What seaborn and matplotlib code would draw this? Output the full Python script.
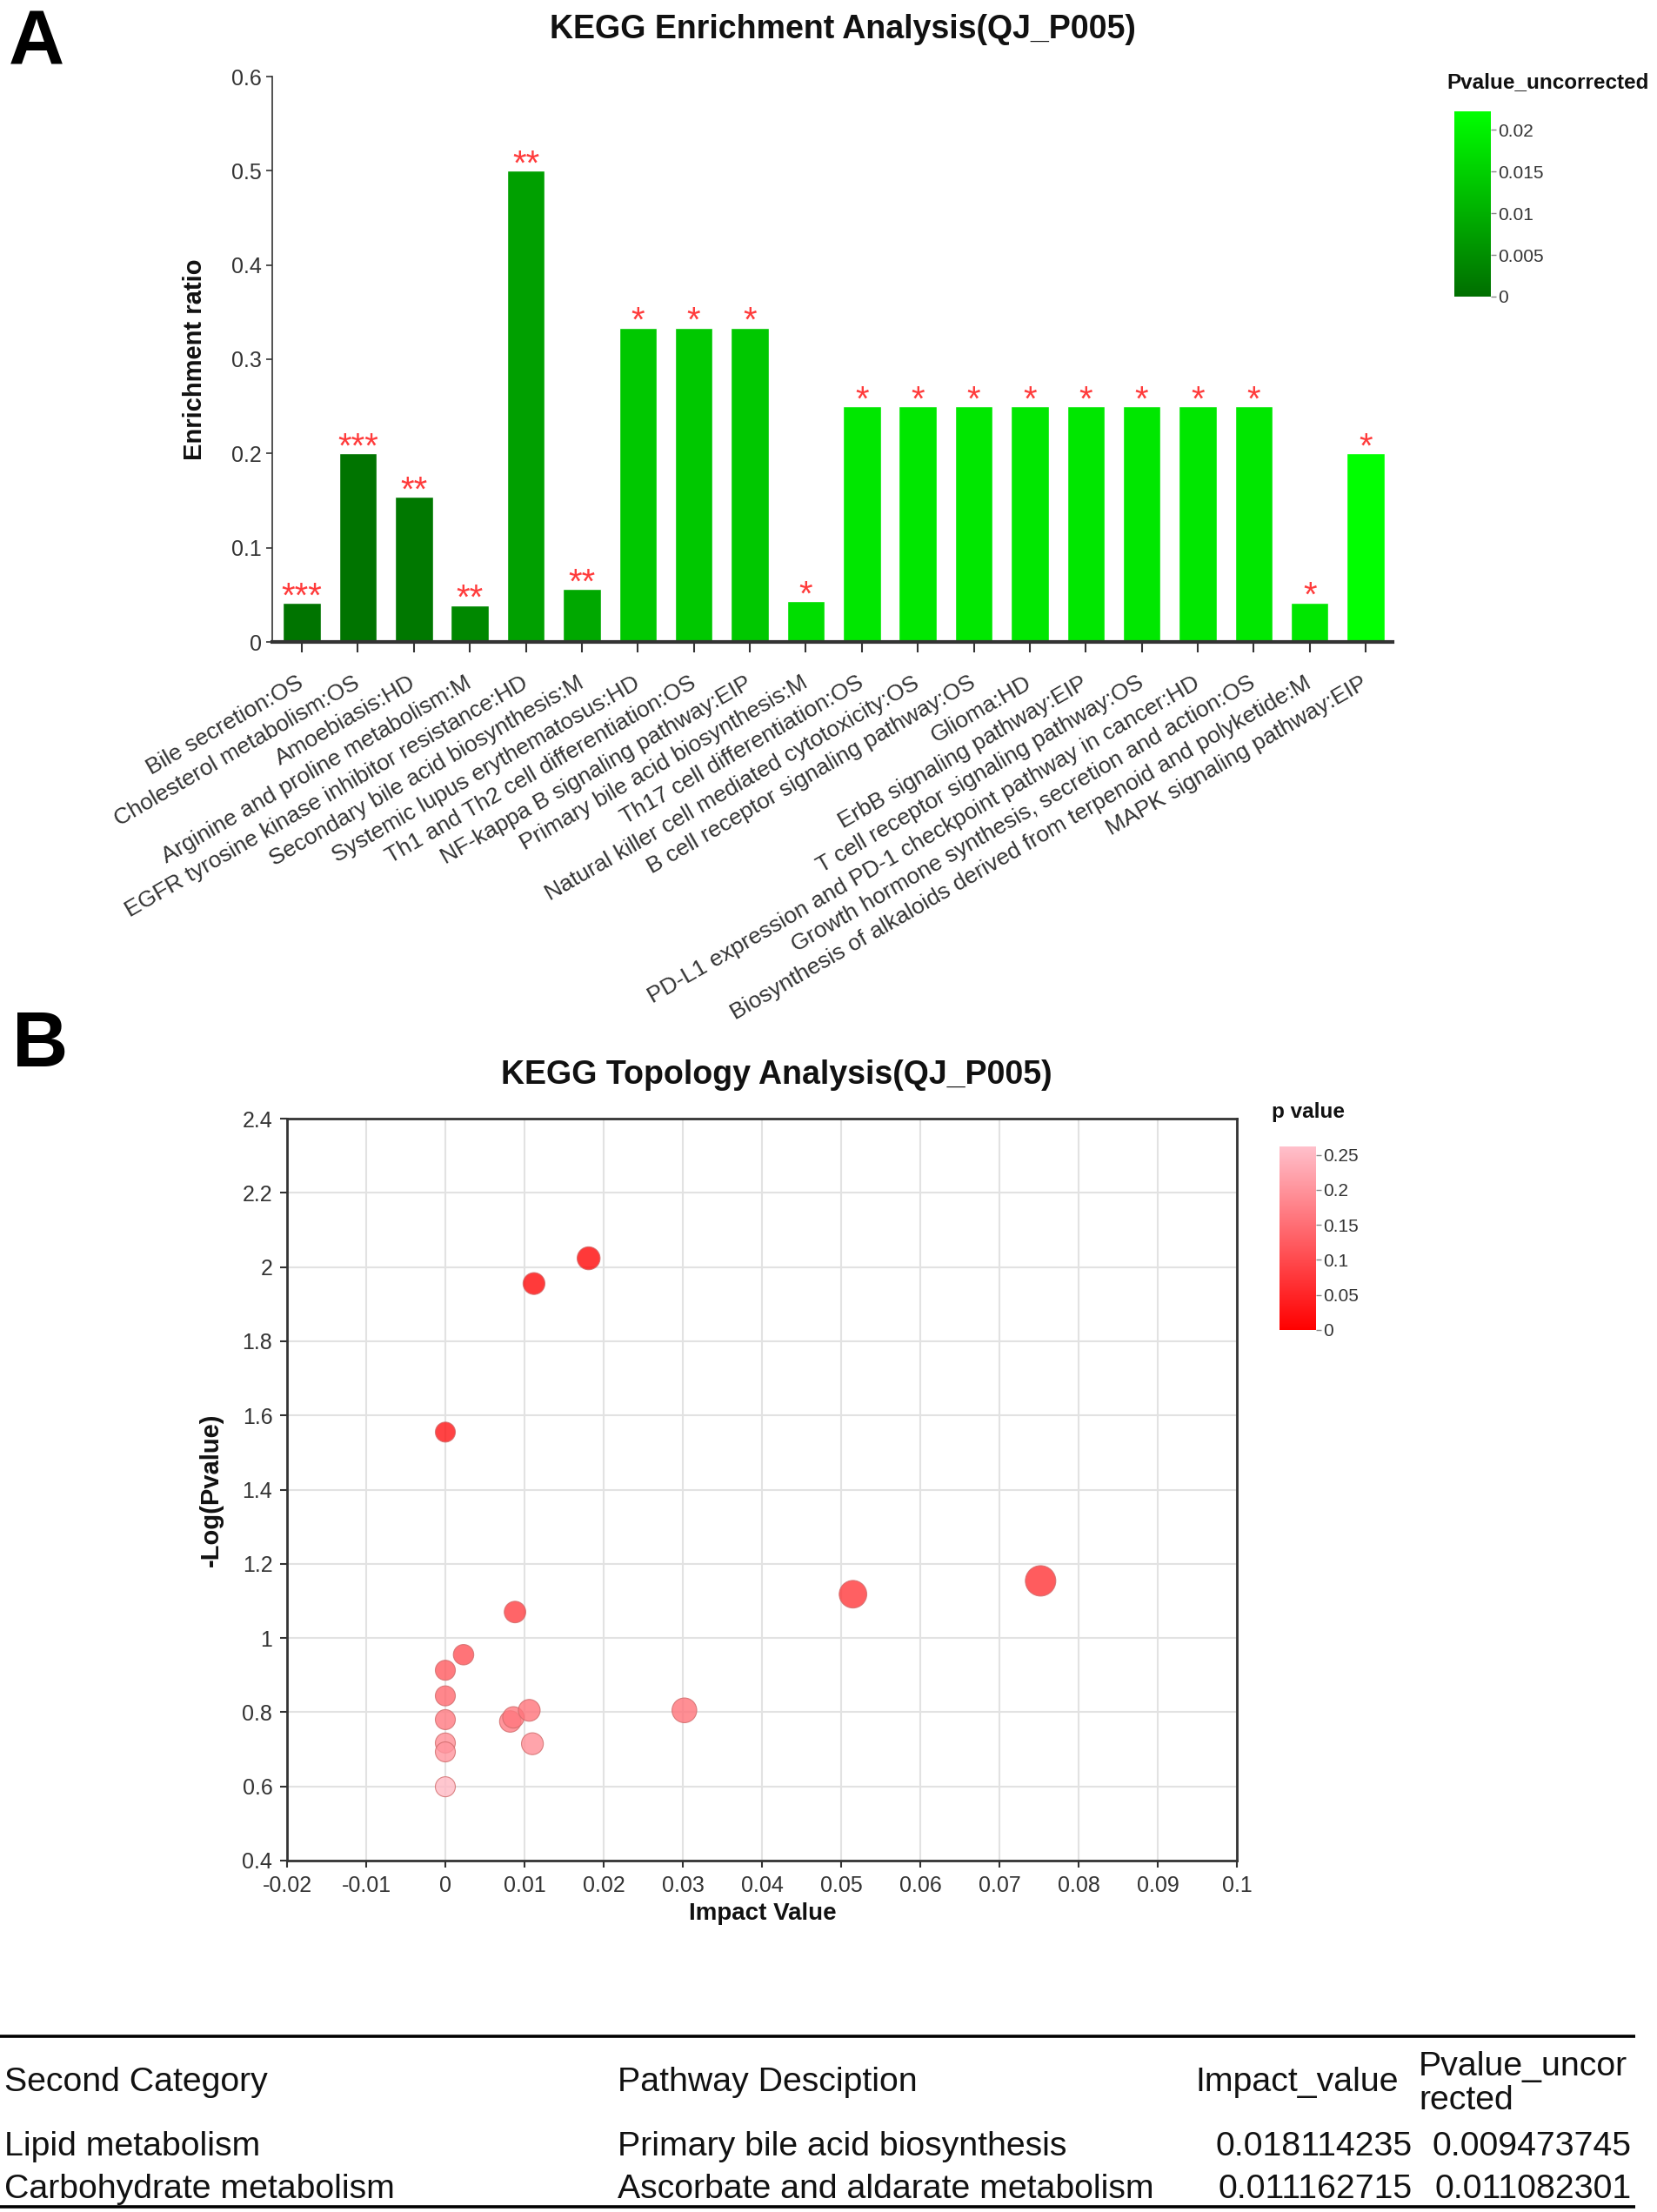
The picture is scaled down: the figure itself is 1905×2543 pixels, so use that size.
import numpy as np
import pandas as pd
import matplotlib
matplotlib.use("Agg")
import matplotlib.pyplot as plt
import seaborn as sns
from matplotlib.colors import LinearSegmentedColormap, Normalize
from matplotlib.cm import ScalarMappable
from matplotlib.ticker import FuncFormatter, MultipleLocator

# ---------------- data ----------------
pathways = [
    "Bile secretion:OS",
    "Cholesterol metabolism:OS",
    "Amoebiasis:HD",
    "Arginine and proline metabolism:M",
    "EGFR tyrosine kinase inhibitor resistance:HD",
    "Secondary bile acid biosynthesis:M",
    "Systemic lupus erythematosus:HD",
    "Th1 and Th2 cell differentiation:OS",
    "NF-kappa B signaling pathway:EIP",
    "Primary bile acid biosynthesis:M",
    "Th17 cell differentiation:OS",
    "Natural killer cell mediated cytotoxicity:OS",
    "B cell receptor signaling pathway:OS",
    "Glioma:HD",
    "ErbB signaling pathway:EIP",
    "T cell receptor signaling pathway:OS",
    "PD-L1 expression and PD-1 checkpoint pathway in cancer:HD",
    "Growth hormone synthesis, secretion and action:OS",
    "Biosynthesis of alkaloids derived from terpenoid and polyketide:M",
    "MAPK signaling pathway:EIP",
]
enrich_ratio = [0.0415, 0.2, 0.154, 0.0388, 0.5, 0.0563, 0.3333, 0.3333, 0.3333, 0.0434,
                0.25, 0.25, 0.25, 0.25, 0.25, 0.25, 0.25, 0.25, 0.0418, 0.2]
pvalue_uncorrected = [0.0009, 0.0010, 0.0016, 0.0040, 0.0077, 0.0089, 0.0138, 0.0138, 0.0138, 0.0171,
                      0.0184, 0.0184, 0.0184, 0.0184, 0.0184, 0.0184, 0.0184, 0.0184, 0.0184, 0.0222]
stars = ["***", "***", "**", "**", "**", "**", "*", "*", "*", "*",
         "*", "*", "*", "*", "*", "*", "*", "*", "*", "*"]
cbarA_ticks = [0, 0.005, 0.01, 0.015, 0.02]
cbarA_labels = ["0", "0.005", "0.01", "0.015", "0.02"]

impact_value = [0.0181, 0.0112, 0.0, 0.0752, 0.0515, 0.0088, 0.0023, 0.0, 0.0, 0.0,
                0.0082, 0.0086, 0.0106, 0.0302, 0.0, 0.0, 0.0110, 0.0]
neg_log_p = [2.0235, 1.9554, 1.555, 1.154, 1.118, 1.070, 0.955, 0.913, 0.844, 0.780,
             0.775, 0.786, 0.805, 0.805, 0.717, 0.693, 0.715, 0.599]
cbarB_ticks = [0, 0.05, 0.1, 0.15, 0.2, 0.25]
cbarB_labels = ["0", "0.05", "0.1", "0.15", "0.2", "0.25"]

table_header = ["Second Category", "Pathway Desciption", "Impact_value", "Pvalue_uncor\nrected"]
table_category = ["Lipid metabolism", "Carbohydrate metabolism"]
table_pathway = ["Primary bile acid biosynthesis", "Ascorbate and aldarate metabolism"]
table_impact = ["0.018114235", "0.011162715"]
table_pvalue = ["0.009473745", "0.011082301"]

# ---------------- style ----------------
sns.set_theme(style="ticks")
plt.rcParams["font.family"] = ["Liberation Sans", "DejaVu Sans"]
plt.rcParams["axes.edgecolor"] = "#333333"
plt.rcParams["xtick.color"] = "#333333"
plt.rcParams["ytick.color"] = "#333333"
plt.rcParams["text.color"] = "#111111"

W, H, DPI = 1905, 2543, 100
fig = plt.figure(figsize=(W / DPI, H / DPI), dpi=DPI)


def rect(l, t, r, b):
    return [l / W, 1 - b / H, (r - l) / W, (b - t) / H]


def fx(x):
    return x / W


def fy(y):
    return 1 - y / H


fmt = FuncFormatter(lambda v, _: f"{round(v, 6) + 0.0:g}")

# ---------------- Panel A ----------------
axA = fig.add_axes(rect(313, 88, 1601, 738))
dfA = pd.DataFrame({"pathway": pathways, "ratio": enrich_ratio, "p": pvalue_uncorrected})
normA = Normalize(0, 0.0222)
cmapA = LinearSegmentedColormap.from_list("greens_custom", ["#006e00", "#00ff00"])
bar_colors = [cmapA(normA(p)) for p in pvalue_uncorrected]
sns.barplot(data=dfA, x="pathway", y="ratio", hue="pathway", palette=bar_colors,
            width=0.675, saturation=1, legend=False, ax=axA)
axA.set_xlim(-0.53, 19.48)
axA.set_ylim(0, 0.6)
axA.yaxis.set_major_locator(MultipleLocator(0.1))
axA.yaxis.set_major_formatter(fmt)
axA.set_xlabel("")
axA.set_ylabel("")
for s in ["top", "right"]:
    axA.spines[s].set_visible(False)
axA.spines["left"].set_linewidth(1.2)
axA.spines["bottom"].set_linewidth(3)
axA.tick_params(axis="y", length=5, width=1.2, labelsize=18, pad=4)
axA.tick_params(axis="x", length=8.6, width=1.5, labelsize=19, pad=24)
plt.setp(axA.get_xticklabels(), rotation=30, ha="right", va="center", rotation_mode="anchor")

for i, (v, st) in enumerate(zip(enrich_ratio, stars)):
    axA.annotate(st, (i, v), xytext=(0, -3), textcoords="offset points",
                 ha="center", va="baseline", color="#ff3b3b", fontsize=29)

fig.text(fx(224), fy(413), "Enrichment ratio", rotation=90, ha="center", va="center",
         fontsize=21, fontweight="bold")
fig.text(fx(969), fy(44), "KEGG Enrichment Analysis(QJ_P005)", ha="center", va="baseline",
         fontsize=27, fontweight="bold")
fig.text(fx(10), fy(74), "A", ha="left", va="baseline", fontsize=64, fontweight="bold",
         color="black")

caxA = fig.add_axes(rect(1672, 128, 1714, 341))
cbA = fig.colorbar(ScalarMappable(norm=normA, cmap=cmapA), cax=caxA)
cbA.outline.set_visible(False)
cbA.set_ticks(cbarA_ticks)
cbA.set_ticklabels(cbarA_labels)
caxA.tick_params(length=4, width=1, color="#888888", labelsize=15, pad=2)
fig.text(fx(1663), fy(101), "Pvalue_uncorrected", ha="left", va="baseline",
         fontsize=17.5, fontweight="bold")

# ---------------- Panel B ----------------
axB = fig.add_axes(rect(330, 1286, 1422, 2139))
dfB = pd.DataFrame({"impact": impact_value, "neglogp": neg_log_p})
dfB["p"] = 10 ** (-dfB["neglogp"])
normB = Normalize(0, 0.262)
cmapB = LinearSegmentedColormap.from_list("reds_custom", ["#ff0000", "#ffc0cb"])
axB.grid(True, color="#e2e2e2", linewidth=1.5)
axB.set_axisbelow(True)
sns.scatterplot(data=dfB, x="impact", y="neglogp", hue="p", palette=cmapB, hue_norm=(0, 0.262),
                size="impact", sizes=(274, 635), size_norm=(0, 0.0752), alpha=0.8,
                edgecolor="#d06a6a", linewidth=0.8, legend=False, ax=axB, zorder=3)
axB.set_xlim(-0.02, 0.1)
axB.set_ylim(0.4, 2.4)
axB.xaxis.set_major_locator(MultipleLocator(0.01))
axB.yaxis.set_major_locator(MultipleLocator(0.2))
axB.xaxis.set_major_formatter(fmt)
axB.yaxis.set_major_formatter(fmt)
axB.set_xlabel("")
axB.set_ylabel("")
for s in ["top", "right", "left", "bottom"]:
    axB.spines[s].set_linewidth(2)
axB.tick_params(length=6, width=1.5, labelsize=18, pad=6)

fig.text(fx(877), fy(2200), "Impact Value", ha="center", va="center",
         fontsize=20, fontweight="bold")
fig.text(fx(243), fy(1713), "-Log(Pvalue)", rotation=90, ha="center", va="center",
         fontsize=21, fontweight="bold")
fig.text(fx(893), fy(1246), "KEGG Topology Analysis(QJ_P005)", ha="center", va="baseline",
         fontsize=27, fontweight="bold")
fig.text(fx(14), fy(1226), "B", ha="left", va="baseline", fontsize=64, fontweight="bold",
         color="black")

caxB = fig.add_axes(rect(1471, 1318, 1513, 1529))
cbB = fig.colorbar(ScalarMappable(norm=normB, cmap=cmapB), cax=caxB)
cbB.outline.set_visible(False)
cbB.set_ticks(cbarB_ticks)
cbB.set_ticklabels(cbarB_labels)
caxB.tick_params(length=4, width=1, color="#888888", labelsize=15, pad=2)
fig.text(fx(1462), fy(1285), "p value", ha="left", va="baseline",
         fontsize=17.5, fontweight="bold")

# ---------------- Table ----------------
axT = fig.add_axes(rect(0, 2320, W, H))
axT.set_xlim(0, W)
axT.set_ylim(H, 2320)
axT.axis("off")
axT.plot([0, 1880], [2341, 2341], color="black", lw=2.6, solid_capstyle="butt")
axT.plot([0, 1880], [2537, 2537], color="black", lw=2.6, solid_capstyle="butt")
tfs = 28.3
axT.text(5, 2404, table_header[0], ha="left", va="baseline", fontsize=tfs)
axT.text(710, 2404, table_header[1], ha="left", va="baseline", fontsize=tfs)
axT.text(1374, 2404, table_header[2], ha="left", va="baseline", fontsize=tfs)
axT.text(1631, 2425, table_header[3], ha="left", va="baseline", fontsize=tfs, linespacing=1.12)
row_baselines = [2478, 2527]
for yb, c, pth, imp, pv in zip(row_baselines, table_category, table_pathway, table_impact, table_pvalue):
    axT.text(5, yb, c, ha="left", va="baseline", fontsize=tfs)
    axT.text(710, yb, pth, ha="left", va="baseline", fontsize=tfs)
    axT.text(1624, yb, imp, ha="right", va="baseline", fontsize=tfs)
    axT.text(1876, yb, pv, ha="right", va="baseline", fontsize=tfs)

fig.savefig("out.png", dpi=DPI)
